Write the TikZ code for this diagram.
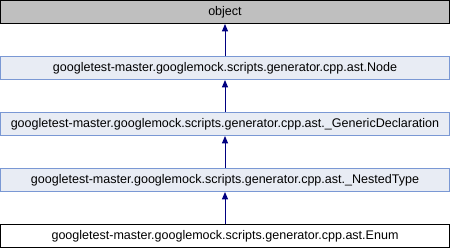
\documentclass[tikz,border=0pt]{standalone}
\usepackage{fontspec}
\setmainfont{Liberation Sans}
\usetikzlibrary{arrows.meta}
\definecolor{basefill}{HTML}{BFBFBF}
\definecolor{midfill}{HTML}{E8ECF4}
\definecolor{midedge}{HTML}{7A98D4}
\definecolor{inherit}{HTML}{000080}
\begin{document}
\begin{tikzpicture}[x=0.75pt,y=-0.75pt,
  cls/.style={draw, line width=0.75pt, minimum width=448.5*0.75pt,
    minimum height=23*0.75pt, inner sep=0pt, font=\fontsize{9.4pt}{11pt}\selectfont},
  rootcls/.style={cls, fill=basefill, draw=black},
  midcls/.style={cls, fill=midfill, draw=midedge},
  leafcls/.style={cls, fill=white, draw=black},
  derive/.style={draw=inherit, line width=0.75pt,
    -{Triangle[length=5.5pt,width=4.5pt]}}]
  \useasboundingbox (0,0) rectangle (450,248);
  \node[rootcls] (obj)  at (225,12)  {object};
  \node[midcls]  (node) at (225,68)  {googletest-master.googlemock.scripts.generator.cpp.ast.Node};
  \node[midcls]  (gen)  at (225,124) {googletest-master.googlemock.scripts.generator.cpp.ast.\_GenericDeclaration};
  \node[midcls]  (nest) at (225,180) {googletest-master.googlemock.scripts.generator.cpp.ast.\_NestedType};
  \node[leafcls] (enum) at (225,236) {googletest-master.googlemock.scripts.generator.cpp.ast.Enum};
  \draw[derive] (node) -- (obj);
  \draw[derive] (gen) -- (node);
  \draw[derive] (nest) -- (gen);
  \draw[derive] (enum) -- (nest);
\end{tikzpicture}
\end{document}
